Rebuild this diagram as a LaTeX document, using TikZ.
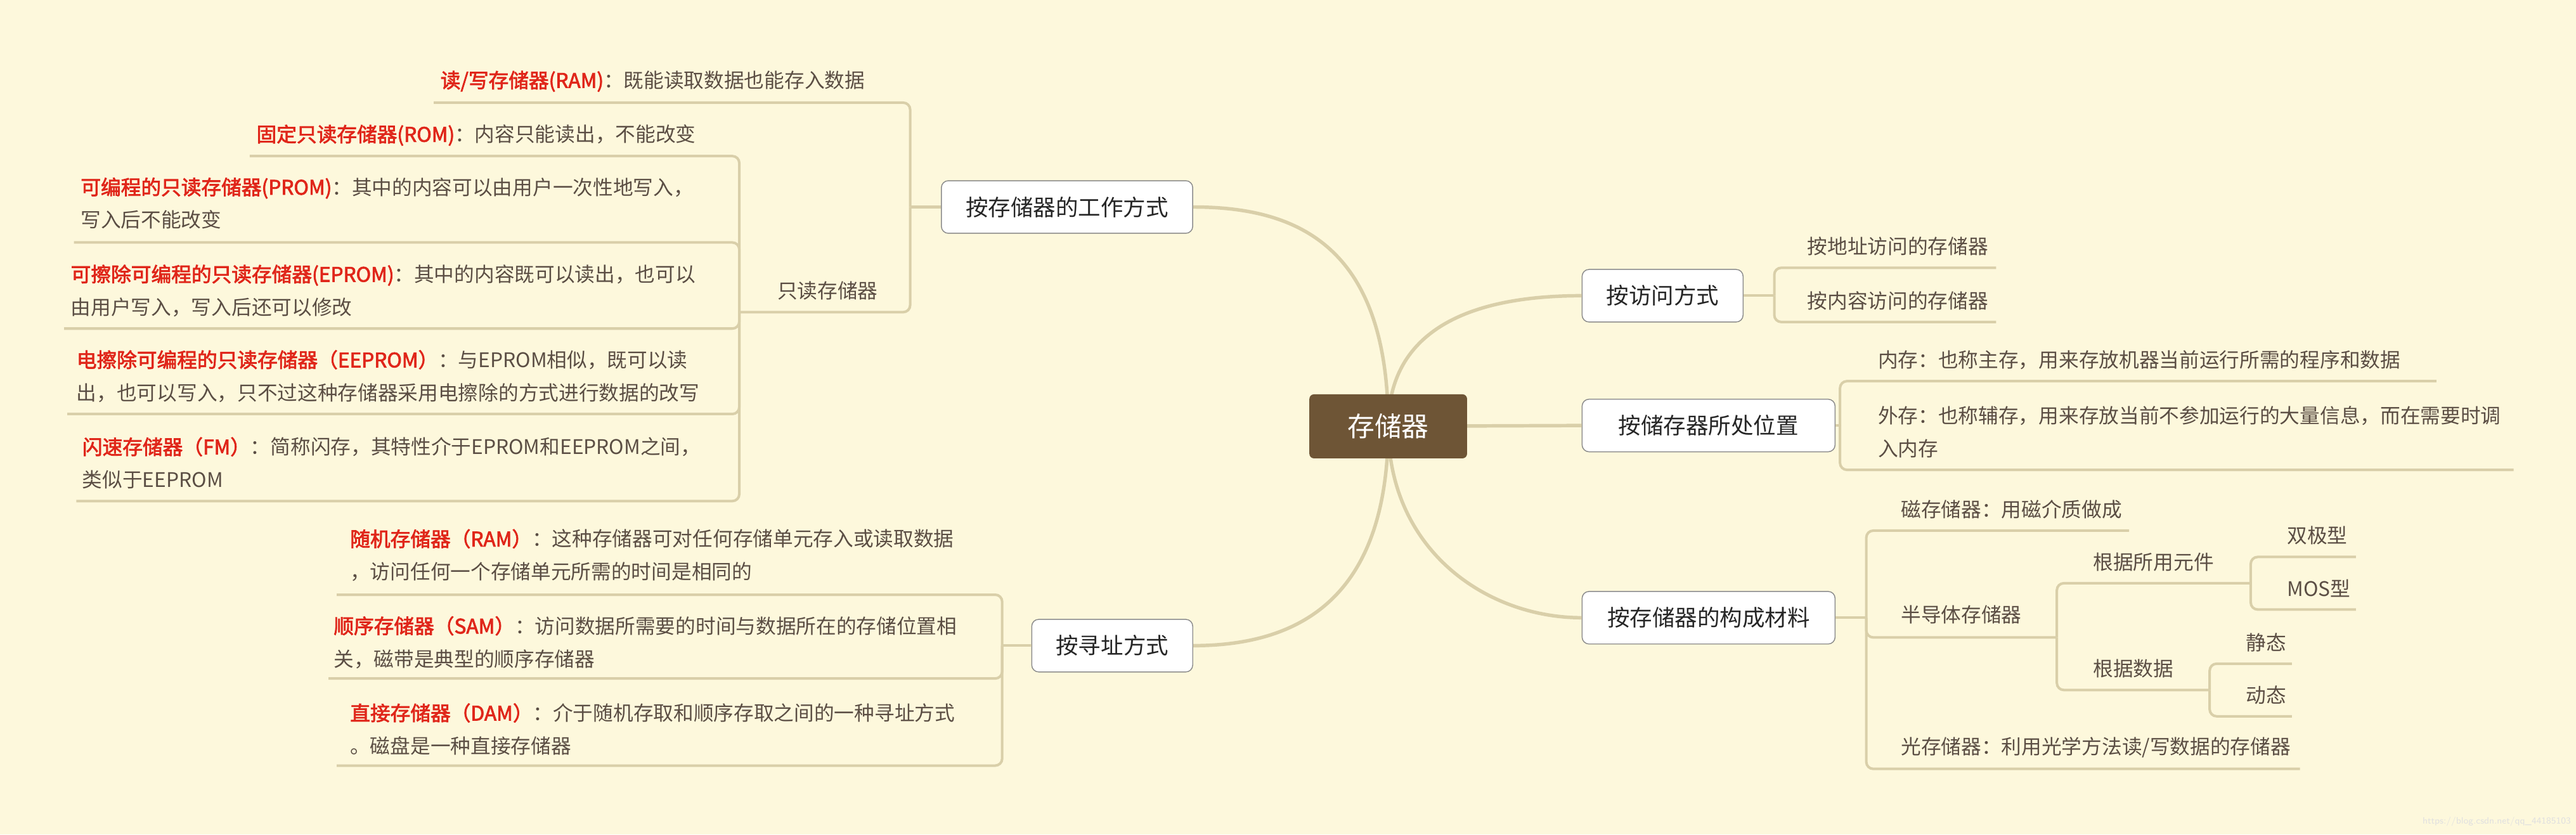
\documentclass[tikz,border=0pt]{standalone}
\usepackage{fontspec}
\newfontfamily\cjk[AutoFakeBold=2.5]{Noto Sans CJK SC}
\definecolor{bg}{HTML}{FDF8DC}
\definecolor{ln}{HTML}{D9CFA9}
\definecolor{tx}{HTML}{5B4E44}
\definecolor{rd}{HTML}{E0261A}
\definecolor{rootc}{HTML}{6E5536}
\definecolor{bd}{HTML}{8C8C8C}
\newcommand{\rt}[1]{{\bfseries\color{rd}#1}}
\tikzset{
  txt/.style={font=\cjk\fontsize{17.4}{28.5}\selectfont, text=tx, inner sep=0pt, anchor=west},
  mtxt/.style={txt, align=left, anchor=north west},
  lvl/.style={draw=bd, line width=0.8pt, fill=white, rounded corners=6pt, minimum height=1.6cm, inner sep=0pt, font=\cjk\fontsize{19.5}{22}\selectfont, text=black!85},
  conn/.style={draw=ln, line width=3pt},
  sub/.style={draw=ln, line width=2.2pt, rounded corners=6pt},
}
\begin{document}
\begin{tikzpicture}[x=0.05cm,y=-0.05cm]
\fill[bg] (0,0) rectangle (1568,508);
\useasboundingbox (0,0) rectangle (1568,508);
% level-1 boxes
\node[lvl, minimum width=7.65cm] (work) at (649.5,126) {按存储器的工作方式};
\node[lvl, minimum width=4.9cm] (addr) at (677,393) {按寻址方式};
\node[lvl, minimum width=4.9cm] (acc) at (1012,180) {按访问方式};
\node[lvl, minimum width=7.7cm] (pos) at (1040,259) {按储存器所处位置};
\node[lvl, minimum width=7.7cm] (mat) at (1040,376) {按存储器的构成材料};
\coordinate (rc) at (845,259.5);
% root connectors
\begin{scope}[on background layer/.style={}]
\draw[conn] (rc) .. controls (845,150) and (790,126) .. (work.east);
\draw[conn] (rc) .. controls (845,365) and (790,393) .. (addr.east);
\draw[conn] (rc) .. controls (845,195) and (905,180) .. (acc.west);
\draw[conn] (rc) -- (pos.west);
\draw[conn] (rc) .. controls (845,335) and (905,376) .. (mat.west);
\end{scope}
\node[fill=rootc, rounded corners=4pt, minimum width=4.8cm, minimum height=1.95cm, inner sep=0pt, text=white, font=\cjk\fontsize{23.5}{26}\selectfont] (root) at (rc) {存储器};

% ---- work mode
\draw[sub] (work.west) -- (554,126);
\draw[sub] (554,126) -- (554,62.5) -- (264,62.5);
\draw[sub] (554,126) -- (554,190) -- (450,190);
\node[txt] (ram) at (268,49.5) {\rt{读/写存储器(RAM)}：既能读取数据也能存入数据};
\node[txt] (rom) at (473,177) {只读存储器};
\draw[sub] (450,190) -- (450,95) -- (152,95);
\draw[sub] (450,190) -- (450,147.6) -- (45,147.6);
\draw[sub] (450,190) -- (450,200) -- (39,200);
\draw[sub] (450,190) -- (450,252) -- (41,252);
\draw[sub] (450,190) -- (450,305) -- (46.5,305);
\node[txt] (rom1) at (156,82.3) {\rt{固定只读存储器(ROM)}：内容只能读出，不能改变};
\node[mtxt] (prom) at (49,108) {\rt{可编程的只读存储器(PROM)}：其中的内容可以由用户一次性地写入，\\写入后不能改变};
\node[mtxt] (eprom) at (43,161) {\rt{可擦除可编程的只读存储器(EPROM)}：其中的内容既可以读出，也可以\\由用户写入，写入后还可以修改};
\node[mtxt] (eeprom) at (46.5,213) {\rt{电擦除可编程的只读存储器（EEPROM）}：与EPROM相似，既可以读\\出，也可以写入，只不过这种存储器采用电擦除的方式进行数据的改写};
\node[mtxt] (fm) at (50,266) {\rt{闪速存储器（FM）}：简称闪存，其特性介于EPROM和EEPROM之间，\\类似于EEPROM};

% ---- addressing
\draw[sub] (addr.west) -- (610,393);
\draw[sub] (610,393) -- (610,362) -- (205,362);
\draw[sub] (610,393) -- (610,413) -- (200,413);
\draw[sub] (610,393) -- (610,466) -- (205,466);
\node[mtxt] (ram2) at (213,322) {\rt{随机存储器（RAM）}：这种存储器可对任何存储单元存入或读取数据\\，访问任何一个存储单元所需的时间是相同的};
\node[mtxt] (sam) at (203,375) {\rt{顺序存储器（SAM）}：访问数据所需要的时间与数据所在的存储位置相\\关，磁带是典型的顺序存储器};
\node[mtxt] (dam) at (213,428) {\rt{直接存储器（DAM）}：介于随机存取和顺序存取之间的一种寻址方式\\。磁盘是一种直接存储器};

% ---- access
\draw[sub] (acc.east) -- (1080,180);
\draw[sub] (1080,180) -- (1080,163) -- (1215,163);
\draw[sub] (1080,180) -- (1080,196) -- (1215,196);
\node[txt] (a1) at (1100,150) {按地址访问的存储器};
\node[txt] (a2) at (1100,183) {按内容访问的存储器};

% ---- position
\draw[sub] (pos.east) -- (1120,259);
\draw[sub] (1120,259) -- (1120,232) -- (1483,232);
\draw[sub] (1120,259) -- (1120,286) -- (1530,286);
\node[txt] (p1) at (1143,219) {内存：也称主存，用来存放机器当前运行所需的程序和数据};
\node[mtxt] (p2) at (1143,247) {外存：也称辅存，用来存放当前不参加运行的大量信息，而在需要时调\\入内存};

% ---- material
\draw[sub] (mat.east) -- (1136,376);
\draw[sub] (1136,376) -- (1136,323) -- (1296,323);
\draw[sub] (1136,376) -- (1136,388) -- (1252,388);
\draw[sub] (1136,376) -- (1136,468) -- (1400,468);
\node[txt] (m1) at (1157,310) {磁存储器：用磁介质做成};
\node[txt] (m2) at (1157,374) {半导体存储器};
\node[txt] (m3) at (1157,455) {光存储器：利用光学方法读/写数据的存储器};
\draw[sub] (1252,388) -- (1252,355) -- (1370,355);
\draw[sub] (1252,388) -- (1252,420) -- (1345,420);
\node[txt] (s1) at (1274,342) {根据所用元件};
\node[txt] (s2) at (1274,407) {根据数据};
\draw[sub] (1370,355) -- (1370,339) -- (1434,339);
\draw[sub] (1370,355) -- (1370,371) -- (1434,371);
\node[txt] (t1) at (1392,326) {双极型};
\node[txt] (t2) at (1392,358) {MOS型};
\draw[sub] (1345,420) -- (1345,404) -- (1395,404);
\draw[sub] (1345,420) -- (1345,436) -- (1395,436);
\node[txt] (u1) at (1367,391) {静态};
\node[txt] (u2) at (1367,423) {动态};

\node[font=\fontsize{8}{9}\selectfont\sffamily, text=black!12, inner sep=0pt, anchor=east] (wm) at (1565,500) {https://blog.csdn.net/qq\_44185103};
\end{tikzpicture}
\end{document}
